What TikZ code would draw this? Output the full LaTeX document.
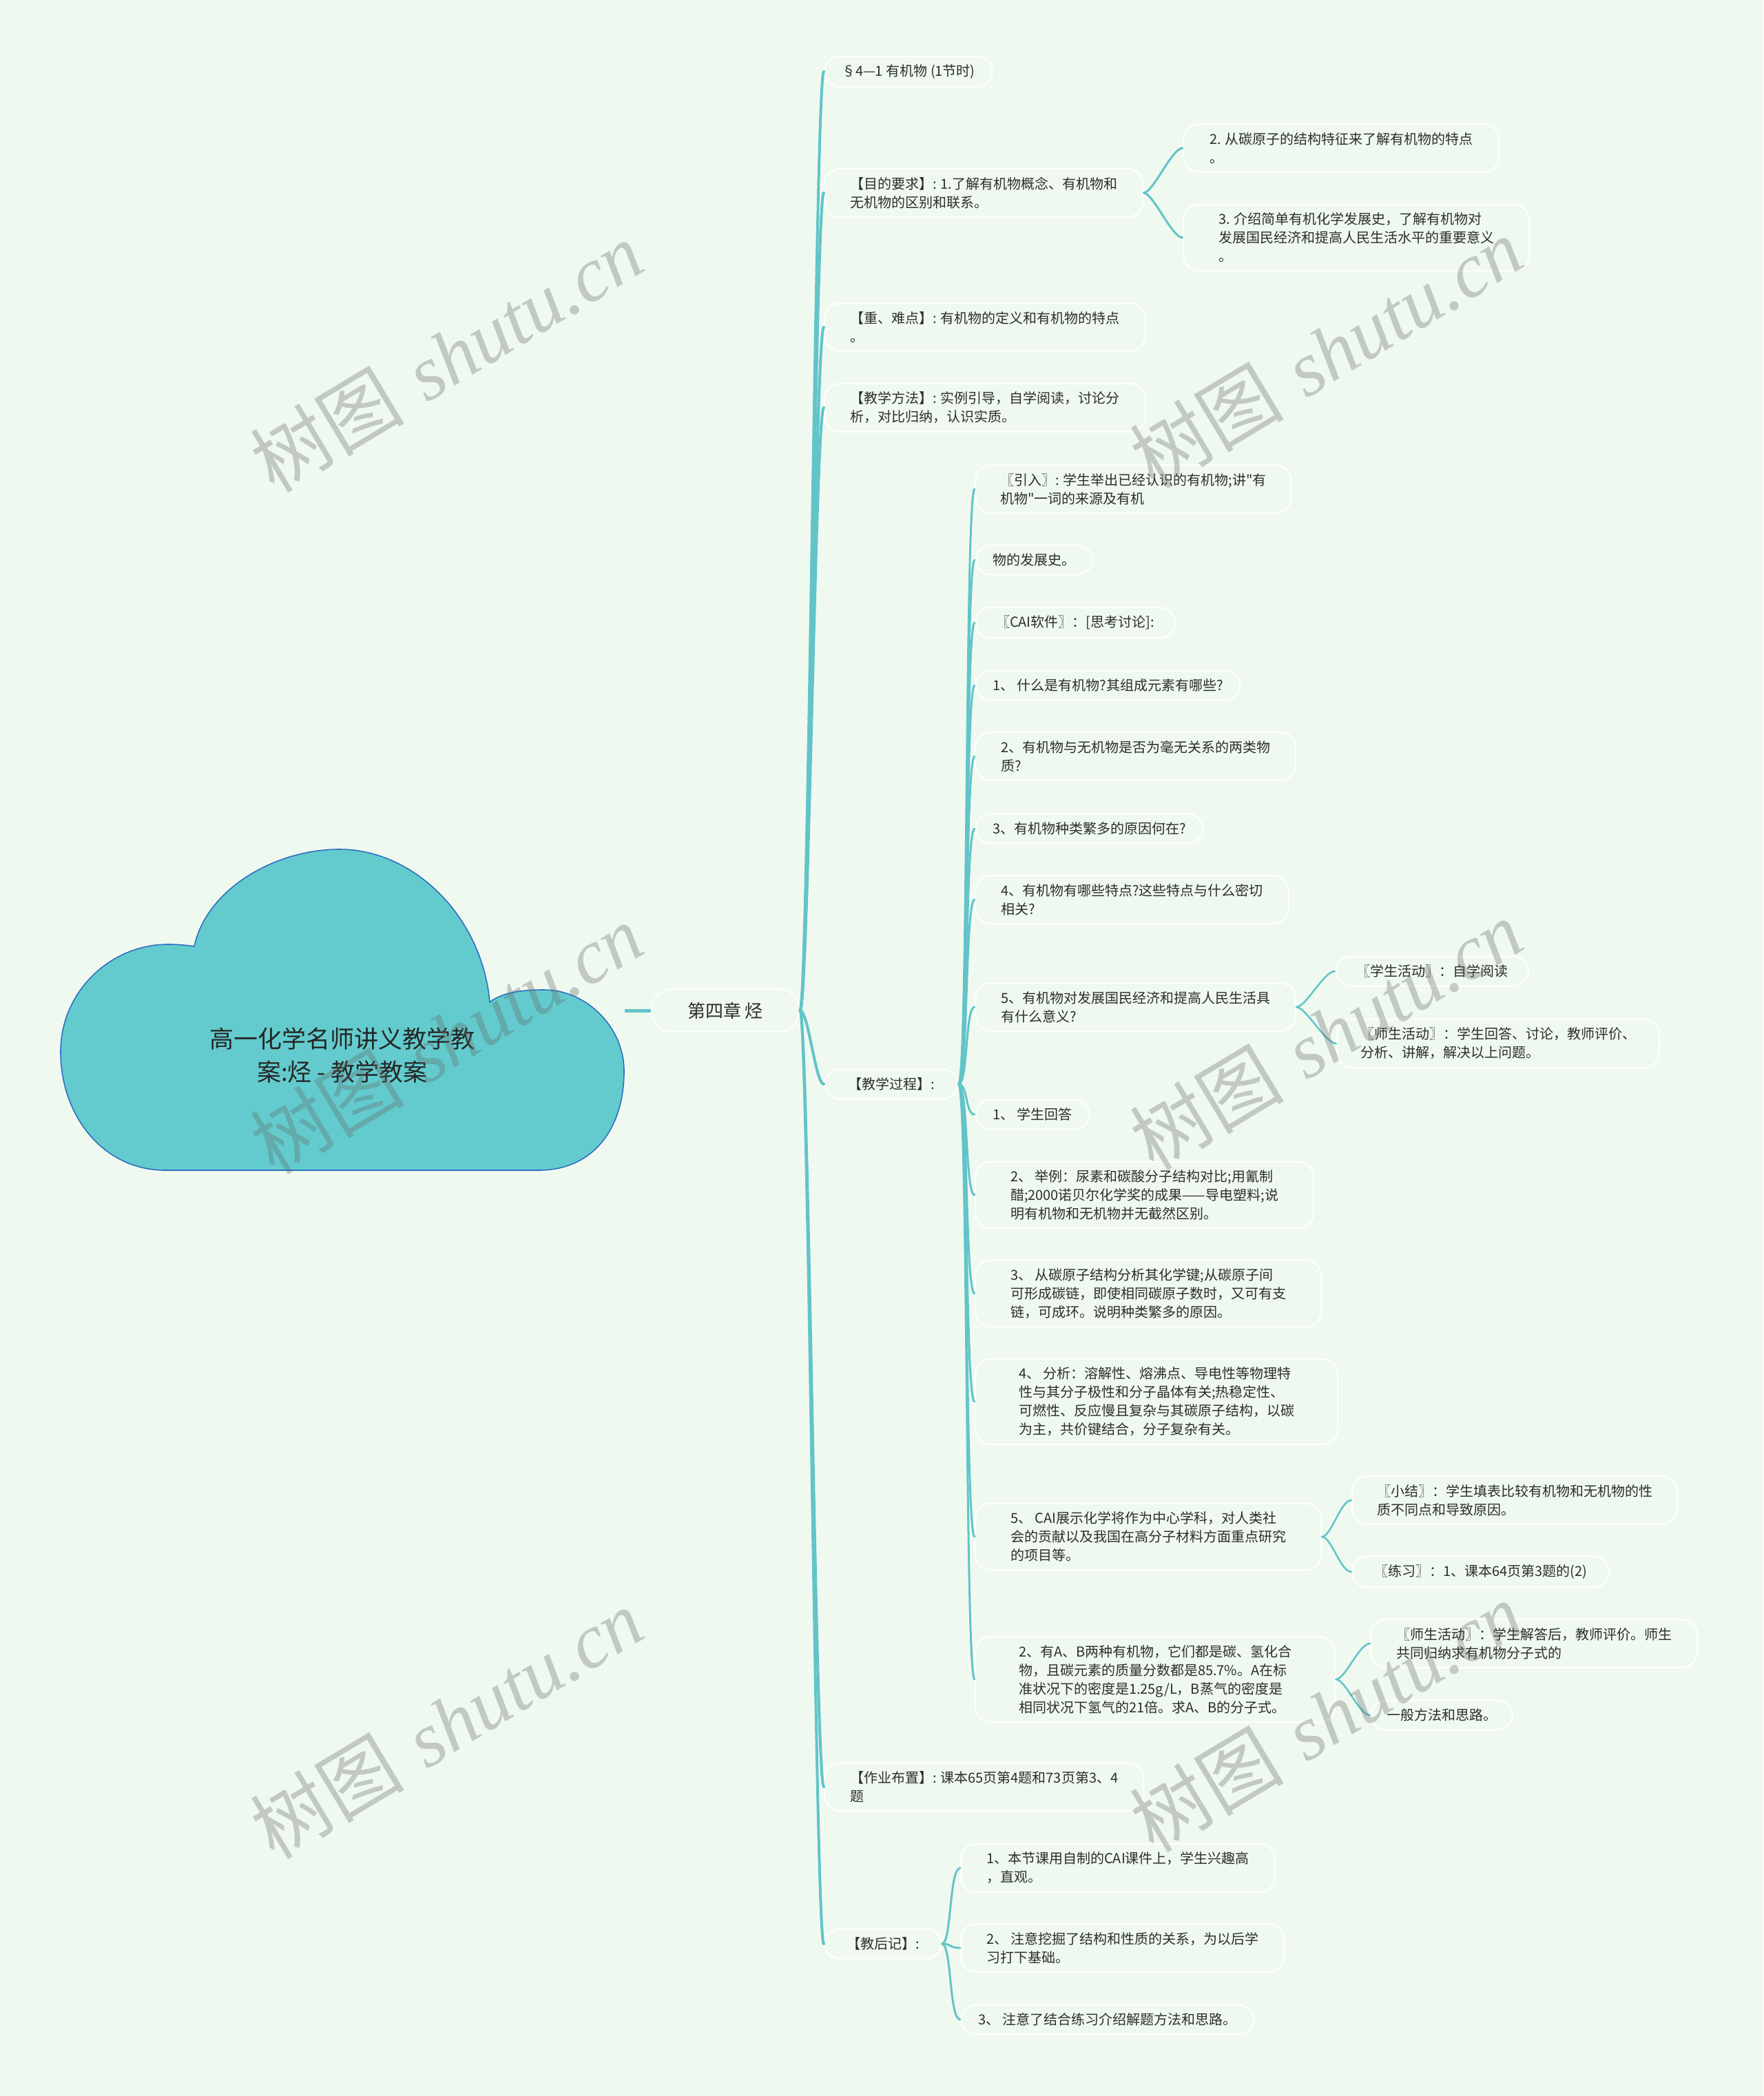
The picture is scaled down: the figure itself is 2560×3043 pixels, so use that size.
\documentclass[tikz,border=0pt]{standalone}
\usepackage{fontspec}
\newfontfamily\cjk{Noto Sans CJK SC}
\newfontfamily\wmserif{Liberation Serif}
\usetikzlibrary{backgrounds}
\definecolor{bgc}{RGB}{239,249,240}
\definecolor{tealc}{RGB}{98,196,201}
\definecolor{cloudfill}{RGB}{99,203,205}
\definecolor{cloudline}{RGB}{50,110,195}
\definecolor{txt}{RGB}{45,45,45}
\begin{document}
\begin{tikzpicture}[x=1pt,y=-1pt,
  box/.style={draw=white, line width=2pt, fill=bgc, rounded corners=22pt, align=left, anchor=west, inner ysep=12pt, text=txt, font=\cjk\fontsize{20}{27}\selectfont},
  conA/.style={draw=tealc, line width=4pt, line cap=round},
  conB/.style={draw=tealc, line width=3pt, line cap=round},
  conC/.style={draw=tealc, line width=2.5pt, line cap=round},
  wm/.style={rotate=31, text=black!60, text opacity=0.32, font=\fontsize{112}{120}\selectfont}
]
\useasboundingbox (0,0) rectangle (2560,3043);
\fill[bgc] (0,0) rectangle (2560,3043);

% cloud
\draw[fill=cloudfill, draw=cloudline, line width=1.6pt]
  (282,1374) .. controls (300,1290) and (400,1233) .. (493,1233)
  .. controls (600,1233) and (700,1330) .. (711,1455)
  .. controls (730,1440) and (760,1437) .. (790,1437)
  .. controls (850,1437) and (906,1490) .. (906,1555)
  .. controls (906,1640) and (860,1699) .. (782,1699)
  -- (240,1699)
  .. controls (150,1699) and (88,1620) .. (88,1527)
  .. controls (88,1440) and (160,1371) .. (244,1371)
  .. controls (258,1371) and (270,1372) .. (282,1374) -- cycle;
\node[align=center, text=black!85, font=\cjk\fontsize{35}{48}\selectfont] (root) at (497,1532) {高一化学名师讲义教学教\\案:烃 - 教学教案};
\coordinate (cloudR) at (907,1467);

% level 1
\node[box, anchor=center, align=center, minimum width=215pt, minimum height=62pt, rounded corners=30pt, draw=white!85!bgc, font=\cjk\fontsize{26}{30}\selectfont] (ch) at (1053,1467) {第四章 烃};
\draw[draw=tealc, line width=5pt] (cloudR) -- (ch.west);

% level 2
\node[box, inner xsep=25pt] (n1) at (1196,104) {§4—1 有机物 (1节时)};
\node[box, inner xsep=37pt] (n2) at (1196,280) {【目的要求】: 1.了解有机物概念、有机物和\\无机物的区别和联系。};
\node[box, inner xsep=37pt] (n3) at (1196,475) {【重、难点】: 有机物的定义和有机物的特点\\。};
\node[box, inner xsep=37pt] (n4) at (1196,592) {【教学方法】: 实例引导，自学阅读，讨论分\\析，对比归纳，认识实质。};
\node[box, inner xsep=34pt] (n5) at (1196,1574) {【教学过程】:};
\node[box, inner xsep=37pt] (n6) at (1196,2594) {【作业布置】: 课本65页第4题和73页第3、4\\题};
\node[box, inner xsep=32pt] (n7) at (1196,2822) {【教后记】:};

% children of n2
\node[box, inner xsep=38pt] (c1) at (1717,215) {2. 从碳原子的结构特征来了解有机物的特点\\。};
\node[box, inner xsep=51pt] (c2) at (1717,345) {3. 介绍简单有机化学发展史，了解有机物对\\发展国民经济和提高人民生活水平的重要意义\\。};

% children of n5
\node[box, inner xsep=36pt] (a) at (1415,710) {〖引入〗: 学生举出已经认识的有机物;讲"有\\机物"一词的来源及有机};
\node[box, inner xsep=25pt] (b) at (1415,813) {物的发展史。};
\node[box, inner xsep=30pt] (c) at (1415,904) {〖CAI软件〗：[思考讨论]:};
\node[box, inner xsep=25pt] (d) at (1415,995) {1、 什么是有机物?其组成元素有哪些?};
\node[box, inner xsep=37pt] (e) at (1415,1098) {2、有机物与无机物是否为毫无关系的两类物\\质?};
\node[box, inner xsep=25pt] (f) at (1415,1203) {3、有机物种类繁多的原因何在?};
\node[box, inner xsep=37pt] (g) at (1415,1306) {4、有机物有哪些特点?这些特点与什么密切\\相关?};
\node[box, inner xsep=37pt] (h) at (1415,1462) {5、有机物对发展国民经济和提高人民生活具\\有什么意义?};
\node[box, inner xsep=25pt] (i) at (1415,1618) {1、 学生回答};
\node[box, inner xsep=51pt] (j) at (1415,1735) {2、 举例：尿素和碳酸分子结构对比;用氰制\\醋;2000诺贝尔化学奖的成果——导电塑料;说\\明有机物和无机物并无截然区别。};
\node[box, inner xsep=51pt] (k) at (1415,1878) {3、 从碳原子结构分析其化学键;从碳原子间\\可形成碳链，即使相同碳原子数时，又可有支\\链，可成环。说明种类繁多的原因。};
\node[box, inner xsep=63pt] (l) at (1415,2035) {4、 分析：溶解性、熔沸点、导电性等物理特\\性与其分子极性和分子晶体有关;热稳定性、\\可燃性、反应慢且复杂与其碳原子结构，以碳\\为主，共价键结合，分子复杂有关。};
\node[box, inner xsep=51pt] (m) at (1415,2231) {5、 CAI展示化学将作为中心学科，对人类社\\会的贡献以及我国在高分子材料方面重点研究\\的项目等。};
\node[box, inner xsep=63pt] (nA) at (1415,2438) {2、有A、B两种有机物，它们都是碳、氢化合\\物，且碳元素的质量分数都是85.7\%。A在标\\准状况下的密度是1.25g/L，B蒸气的密度是\\相同状况下氢气的21倍。求A、B的分子式。};

% level 4
\node[box, inner xsep=30pt] (h1) at (1938,1410) {〖学生活动〗：自学阅读};
\node[box, inner xsep=34pt] (h2) at (1940,1515) {〖师生活动〗：学生回答、讨论，教师评价、\\分析、讲解，解决以上问题。};
\node[box, inner xsep=36pt] (m1) at (1962,2178) {〖小结〗：学生填表比较有机物和无机物的性\\质不同点和导致原因。};
\node[box, inner xsep=32pt] (m2) at (1962,2282) {〖练习〗：1、课本64页第3题的(2)};
\node[box, inner xsep=37pt] (nA1) at (1989,2386) {〖师生活动〗：学生解答后，教师评价。师生\\共同归纳求有机物分子式的};
\node[box, inner xsep=23pt] (nA2) at (1989,2490) {一般方法和思路。};

% children of n7
\node[box, inner xsep=37pt] (k1) at (1394,2712) {1、本节课用自制的CAI课件上，学生兴趣高\\，直观。};
\node[box, inner xsep=37pt] (k2) at (1394,2828) {2、 注意挖掘了结构和性质的关系，为以后学\\习打下基础。};
\node[box, inner xsep=25pt] (k3) at (1394,2932) {3、 注意了结合练习介绍解题方法和思路。};

% connectors
\foreach \t in {n1,n2,n3,n4,n5,n6,n7}
  \draw[conA] (ch.east) .. controls +(12,0) and +(-12,0) .. (\t.west);
\foreach \t in {c1,c2}
  \draw[conB] (n2.east) .. controls +(14,0) and +(-16,0) .. (\t.west);
\foreach \t in {a,b,c,d,e,f,g,h,i,j,k,l,m,nA}
  \draw[conB] (n5.east) .. controls +(14,0) and +(-14,0) .. (\t.west);
\foreach \t in {h1,h2}
  \draw[conC] (h.east) .. controls +(14,0) and +(-16,0) .. (\t.west);
\foreach \t in {m1,m2}
  \draw[conC] (m.east) .. controls +(14,0) and +(-16,0) .. (\t.west);
\foreach \t in {nA1,nA2}
  \draw[conC] (nA.east) .. controls +(14,0) and +(-16,0) .. (\t.west);
\foreach \t in {k1,k2,k3}
  \draw[conB] (n7.east) .. controls +(14,0) and +(-16,0) .. (\t.west);

% watermarks
\foreach \p [count=\q] in {(648,518),(1925,512),(648,1508),(1925,1502),(648,2502),(1925,2492)}
  \node[wm] (wm\q) at \p {{\cjk 树图} {\wmserif\itshape shutu.cn}};
\end{tikzpicture}
\end{document}
